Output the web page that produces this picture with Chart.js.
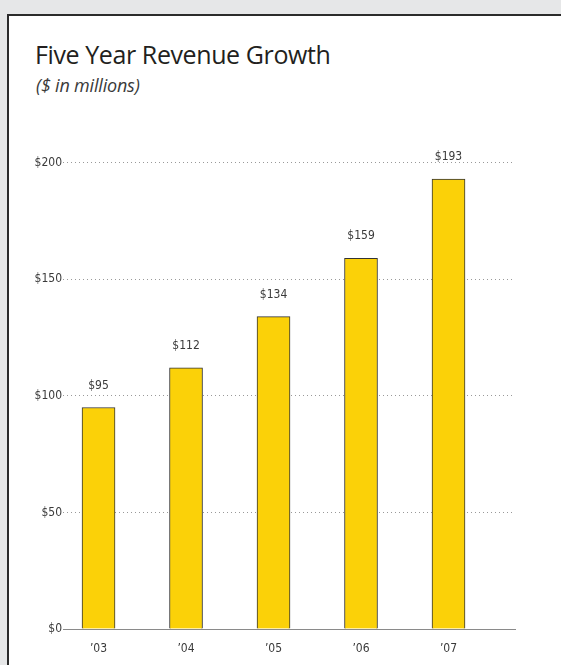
<!DOCTYPE html>
<html>
<head>
<meta charset="utf-8">
<script src="https://cdn.jsdelivr.net/npm/chart.js@4.4.1/dist/chart.umd.min.js"></script>
<style>
    html, body {
        margin: 0;
        padding: 0;
        width: 561px;
        height: 665px;
        overflow: hidden;
        background: #e6e7e8;
    }
    .panel {
        position: absolute;
        left: 7px;
        top: 14px;
        width: 600px;
        height: 700px;
        background: #fff;
        border-left: 2px solid #2b2b2b;
        border-top: 2px solid #2b2b2b;
    }
    .title {
        position: absolute;
        left: 35px;
        top: 40px;
        font-family: 'Open Sans', sans-serif;
        font-size: 25px;
        line-height: 28px;
        color: #231f20;
        letter-spacing: -0.4px;
    }
    .subtitle {
        position: absolute;
        left: 36px;
        top: 74px;
        font-family: 'Open Sans', sans-serif;
        font-style: italic;
        font-size: 18px;
        line-height: 22px;
        color: #3a3a3a;
        letter-spacing: -0.2px;
    }
    #chartBox {
        position: absolute;
        left: 0;
        top: 0;
        width: 561px;
        height: 665px;
    }
</style>
</head>
<body>
<div class="panel"></div>
<div class="title">Five Year Revenue Growth</div>
<div class="subtitle">($ in millions)</div>
<div id="chartBox"><canvas id="revenueChart"></canvas></div>

<script>
// Chart data
const years = ['\u201903', '\u201904', '\u201905', '\u201906', '\u201907'];
const revenue = [95, 112, 134, 159, 193];
const yTicks = [0, 50, 100, 150, 200];

const tickFont = { family: "'Liberation Sans Narrow', 'DejaVu Sans Condensed', 'Liberation Sans', sans-serif", size: 12 };

// Value labels above each bar
const barLabels = {
    id: 'barLabels',
    afterDatasetsDraw(chart) {
        const ctx = chart.ctx;
        const meta = chart.getDatasetMeta(0);
        ctx.save();
        ctx.font = `${tickFont.size}px ${tickFont.family}`;
        ctx.fillStyle = '#3a3a3a';
        ctx.textAlign = 'center';
        ctx.textBaseline = 'middle';
        meta.data.forEach((bar, i) => {
            ctx.fillText('$' + revenue[i], bar.x, bar.y - 22);
        });
        ctx.restore();
    }
};

const ctx = document.getElementById('revenueChart').getContext('2d');
const revenueChart = new Chart(ctx, {
    type: 'bar',
    data: {
        datasets: [{
            data: years.map((y, i) => ({ x: i, y: revenue[i] })),
            backgroundColor: '#fbd108',
            borderColor: '#333',
            borderWidth: 1,
            barThickness: 33
        }]
    },
    options: {
        responsive: true,
        maintainAspectRatio: false,
        animation: false,
        layout: {
            padding: { top: 162.7, right: 46, left: 0, bottom: 0 }
        },
        plugins: {
            legend: { display: false },
            tooltip: { enabled: false }
        },
        scales: {
            x: {
                type: 'linear',
                offset: false,
                min: -0.406,
                max: 4.76,
                afterBuildTicks: scale => {
                    scale.ticks = years.map((y, i) => ({ value: i }));
                },
                afterFit: scale => { scale.height = 36; },
                grid: { display: false, drawTicks: false, offset: false },
                border: { display: true, color: '#8a8a8a', width: 1 },
                ticks: {
                    callback: v => years[v],
                    color: '#3a3a3a',
                    font: tickFont,
                    padding: 13,
                    maxRotation: 0
                }
            },
            y: {
                min: 0,
                max: 200,
                afterBuildTicks: scale => {
                    scale.ticks = yTicks.map(v => ({ value: v }));
                },
                afterFit: scale => { scale.width = 63; },
                grid: {
                    drawTicks: false,
                    color: c => c.tick && c.tick.value === 0 ? 'rgba(0,0,0,0)' : '#999',
                    lineWidth: 1
                },
                border: { display: false, dash: [1, 3] },
                ticks: {
                    callback: v => '$' + v,
                    color: '#3a3a3a',
                    font: tickFont,
                    padding: 1
                }
            }
        }
    },
    plugins: [barLabels]
});
</script>
</body>
</html>
